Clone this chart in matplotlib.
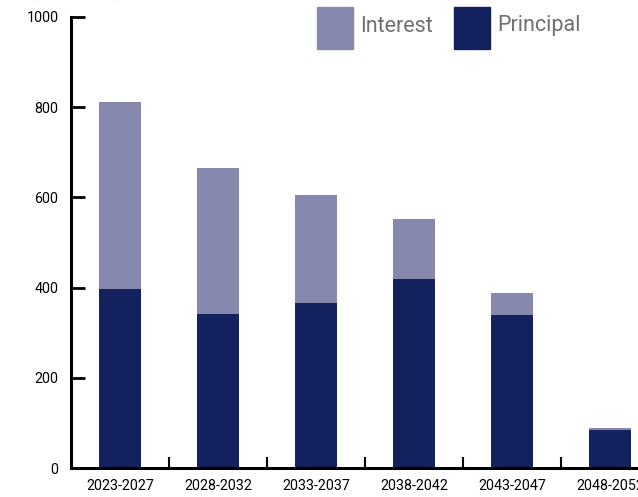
import matplotlib
matplotlib.use('Agg')
import matplotlib.pyplot as plt
from matplotlib.patches import Rectangle
import numpy as np

periods = ['2023-2027', '2028-2032', '2033-2037', '2038-2042', '2043-2047', '2048-2052']
principal = [397, 341, 366, 419, 339, 84]
interest = [414, 324, 239, 133, 49, 5]

c_interest = '#8788ad'
c_principal = '#13225f'

W, H = 638, 497
fig = plt.figure(figsize=(W / 100, H / 100), dpi=100)
font = ['Roboto', 'DejaVu Sans']

# axes goes past the right edge, like the cropped original
ax = fig.add_axes([71 / W, (H - 468) / H, (98 * 6) / W, (468 - 17) / H])
x = np.arange(len(periods))
ax.bar(x, principal, width=0.43, color=c_principal)
ax.bar(x, interest, width=0.43, bottom=principal, color=c_interest)

ax.set_xlim(-0.5, 5.5)
ax.set_ylim(0, 1000)
ax.set_yticks(range(0, 1001, 200))
ax.set_xticks(x)
ax.set_xticklabels(periods, family=font, fontsize=10.3)
ax.set_xticks(np.arange(0.5, 5.5, 1), minor=True)
ax.tick_params(axis='x', which='major', length=0, pad=8)
ax.tick_params(axis='x', which='minor', direction='in', length=8, width=1.5)
ax.tick_params(axis='y', direction='in', length=10, width=2, pad=9, labelsize=10.3)
for lab in ax.get_yticklabels():
    lab.set_family(font)

for s in ['top', 'right']:
    ax.spines[s].set_visible(False)
for s in ['left', 'bottom']:
    ax.spines[s].set_linewidth(2.2)

# legend drawn by hand in pixel coordinates
for px, label, col in [(317, 'Interest', c_interest), (454, 'Principal', c_principal)]:
    fig.add_artist(Rectangle((px / W, (H - 49) / H), 36 / W, 42 / H,
                             transform=fig.transFigure, color=col))
    fig.text((px + 43) / W, (H - 26) / H, label, fontsize=15.5, color='#707070',
             family=font, va='center')

fig.text(30 / W, 1.0 + 2 / H, '(USD millions)', fontsize=10, family=font,
         va='baseline', color='#555555')

fig.savefig('out.png', dpi=100)
